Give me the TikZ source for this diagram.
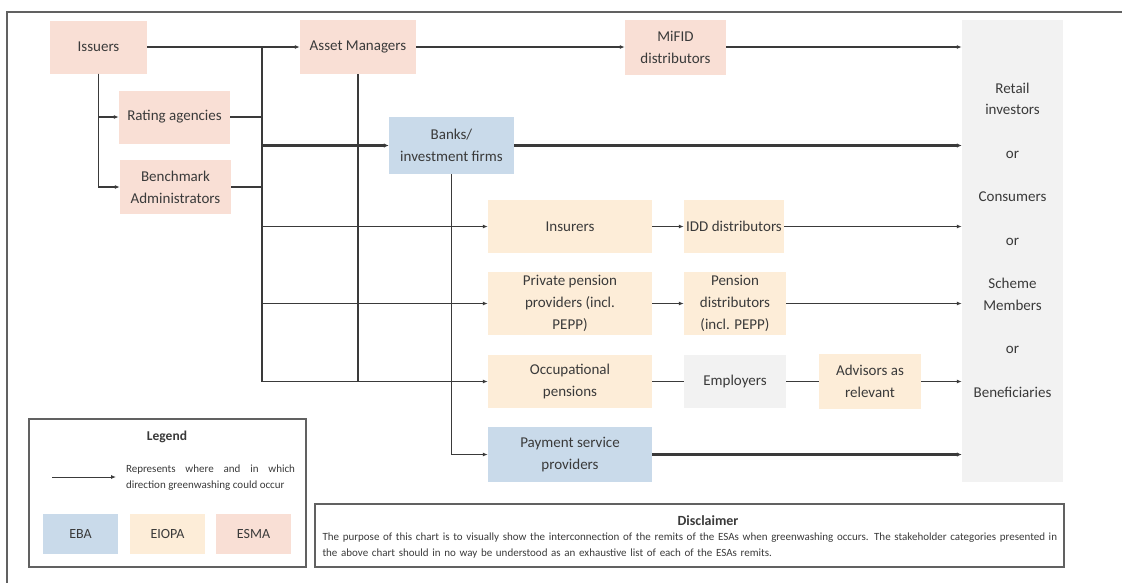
\documentclass[tikz,border=0pt]{standalone}
\usepackage{fontspec}
\setmainfont{Carlito}
\usetikzlibrary{arrows.meta}
\definecolor{esma}{HTML}{F9DFD5}
\definecolor{eiopa}{HTML}{FDEDD8}
\definecolor{eba}{HTML}{C9DAEA}
\definecolor{other}{HTML}{F2F2F2}
\definecolor{ink}{HTML}{3A3A3A}

\begin{document}
\begin{tikzpicture}[x=1pt, y=-1pt,
    every node/.style={text=ink},
    box/.style={minimum height=53, inner sep=0pt, align=center, font=\fontsize{15}{22}\selectfont},
    esmabox/.style={box, fill=esma},
    eiopabox/.style={box, fill=eiopa},
    ebabox/.style={box, fill=eba},
    otherbox/.style={box, fill=other},
    keybox/.style={minimum width=75, minimum height=40, font=\fontsize{14}{16}\selectfont},
    wire/.style={draw=ink, line width=1.3pt},
    thickwire/.style={draw=ink, line width=2.2pt},
    flow/.style={wire, -{Latex[length=5pt, width=4pt]}},
    thickflow/.style={thickwire, -{Latex[length=5pt, width=4.5pt]}},
    frame/.style={draw=ink!80, line width=1.3pt}]

    \useasboundingbox (0,0) rectangle (1122,582);
    \draw[ink!80, line width=1.6pt] (7,590) |- (1130,12);

    \node[esmabox, minimum width=97] (issuers) at (98.5,47) {Issuers};
    \node[esmabox, minimum width=111] (rating) at (174.5,117) {Rating agencies};
    \node[esmabox, minimum width=111, minimum height=54] (bench) at (175.5,187) {Benchmark\\Administrators};
    \node[esmabox, minimum width=116, minimum height=54] (asset) at (358,47) {Asset Managers};
    \node[esmabox, minimum width=101, minimum height=55] (mifid) at (675.5,47) {MiFID\\distributors};
    \node[ebabox, minimum width=125, minimum height=57] (banks) at (451.5,145.5) {Banks/\\investment firms};
    \node[eiopabox, minimum width=164] (insurers) at (570,226.5) {Insurers};
    \node[eiopabox, minimum width=100] (idd) at (734,226.5) {IDD distributors};
    \node[eiopabox, minimum width=164, minimum height=63] (private) at (570,303.5) {Private pension\\providers (incl.\\PEPP)};
    \node[eiopabox, minimum width=102, minimum height=63] (pensiondist) at (735,303.5) {Pension\\distributors\\(incl. PEPP)};
    \node[eiopabox, minimum width=164] (occ) at (570,381.5) {Occupational\\pensions};
    \node[otherbox, minimum width=102] (employers) at (735,381.5) {Employers};
    \node[eiopabox, minimum width=102, minimum height=55] (advisors) at (870,381.5) {Advisors as\\relevant};
    \node[ebabox, minimum width=164, minimum height=55] (psp) at (570,454.5) {Payment service\\providers};
    \node[otherbox, minimum width=101, minimum height=462] (retail) at (1012.5,251) {};
    \node[align=center, font=\fontsize{15}{21.7}\selectfont] (retailtext) at (1012.5,240) {Retail\\investors\\[21.7pt]or\\[21.7pt]Consumers\\[21.7pt]or\\[21.7pt]Scheme\\Members\\[21.7pt]or\\[21.7pt]Beneficiaries};

    \coordinate (bustop) at (262,47);
    \coordinate (busmid) at (262,145.5);
    \coordinate (busbot) at (262,381.5);

    \draw[flow] (issuers) -- (asset);
    \draw[flow] (issuers) |- (rating);
    \draw[flow] (issuers) |- (bench);
    \draw[wire] (rating) -- (rating -| bustop);
    \draw[wire] (bench) -- (bench -| bustop);
    \draw[thickwire] (bustop) -- (busmid);
    \draw[wire] (busmid) -- (busbot);
    \draw[thickflow] (busmid) -- (banks);
    \draw[flow] (busmid |- insurers) -- (insurers);
    \draw[flow] (busmid |- private) -- (private);
    \draw[flow] (busbot) -- (occ);
    \draw[wire] (asset) -- (asset |- occ);
    \draw[flow] (asset) -- (mifid);
    \draw[flow] (mifid) -- (mifid -| retail.west);
    \draw[thickflow] (banks) -- (banks -| retail.west);
    \draw[flow] (banks) |- (psp);
    \draw[thickflow] (psp) -- (psp -| retail.west);
    \draw[flow] (insurers) -- (idd);
    \draw[flow] (idd) -- (idd -| retail.west);
    \draw[flow] (private) -- (pensiondist);
    \draw[flow] (pensiondist) -- (pensiondist -| retail.west);
    \draw[wire] (occ) -- (employers);
    \draw[wire] (employers) -- (advisors);
    \draw[flow] (advisors) -- (advisors -| retail.west);

    \node[frame, minimum width=277, minimum height=148] (legend) at (167.5,493) {};
    \node[font=\fontsize{13.5}{15}\selectfont\bfseries] (legendtitle) at (167,437) {Legend};
    \node[text width=169, align=justify, inner sep=0pt, font=\fontsize{11}{16}\selectfont] (keytext) at (210.5,478) {Represents where and in which \mbox{direction} greenwashing could occur};
    \coordinate (keystart) at (52,477);
    \coordinate (keyend) at (116,477);
    \draw[flow, line width=0.9pt] (keystart) -- (keyend);
    \node[ebabox, keybox] (ebakey) at (80.5,534) {EBA};
    \node[eiopabox, keybox] (eiopakey) at (167.5,534) {EIOPA};
    \node[esmabox, keybox] (esmakey) at (253.5,534) {ESMA};

    \node[frame, minimum width=749, minimum height=63] (disclaimer) at (689.5,535.5) {};
    \node[font=\fontsize{14}{16}\selectfont\bfseries] (disclaimertitle) at (708,521) {Disclaimer};
    \node[text width=735, align=left, inner sep=0pt, font=\fontsize{11}{16}\selectfont] (disclaimertext) at (690,546) {The purpose of this chart is to visually show the interconnection of the remits of the ESAs when greenwashing occurs. The stakeholder categories presented in the above chart should in no way be understood as an exhaustive list of each of the ESAs remits.};

\end{tikzpicture}
\end{document}
